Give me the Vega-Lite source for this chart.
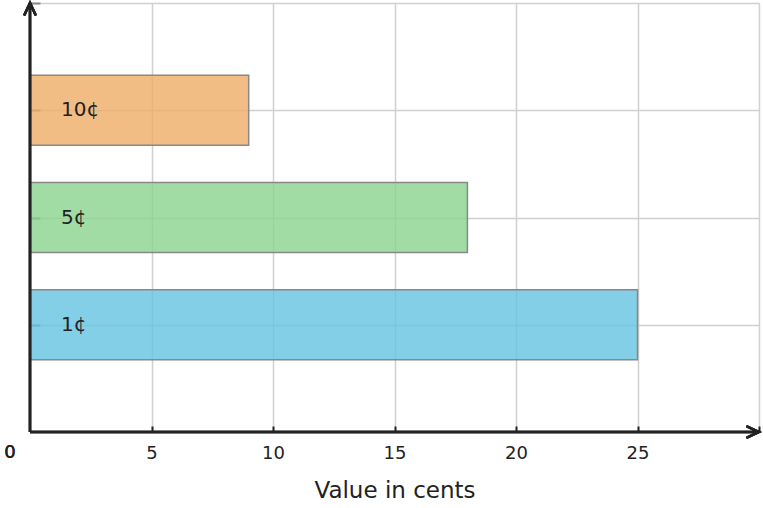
{
  "$schema": "https://vega.github.io/schema/vega-lite/v6.json",
  "width": 729,
  "height": 429,
  "autosize": {"type": "none"},
  "padding": {"left": 30, "top": 3, "right": 4, "bottom": 76},
  "background": "white",
  "config": {
    "view": {"stroke": null},
    "font": "DejaVu Sans"
  },
  "data": {
    "values": [
      {"coin": "1¢", "level": 1, "value": 25, "color": "#65C3E2"},
      {"coin": "5¢", "level": 2, "value": 18, "color": "#88D38D"},
      {"coin": "10¢", "level": 3, "value": 9, "color": "#EFAD65"}
    ]
  },
  "layer": [
    {
      "mark": {"type": "bar", "orient": "horizontal", "size": 70, "fillOpacity": 0.8, "stroke": "#888888", "strokeWidth": 1.5},
      "encoding": {
        "x": {
          "field": "value", "type": "quantitative",
          "scale": {"domain": [0, 30], "nice": false, "zero": true, "padding": 0},
          "axis": {
            "title": "Value in cents", "titleFontSize": 23, "titleFontWeight": "normal", "titleColor": "#222222", "titlePadding": 17,
            "values": [5, 10, 15, 20, 25, 30],
            "labelExpr": "datum.value == 30 ? '' : datum.label",
            "labelFontSize": 18, "labelColor": "#222222", "labelPadding": 18,
            "tickSize": -6, "tickColor": "#222222", "tickWidth": 2,
            "grid": true, "gridColor": "#d0d0d0", "gridWidth": 1.5,
            "domain": false, "zindex": 0
          }
        },
        "x2": {"datum": 0},
        "y": {
          "field": "level", "type": "quantitative",
          "scale": {"domain": [0, 4], "nice": false, "padding": 0},
          "axis": {
            "title": null, "values": [1, 2, 3, 4], "labels": false,
            "tickSize": -10, "tickColor": "#888888", "tickWidth": 2,
            "grid": true, "gridColor": "#d0d0d0", "gridWidth": 1.5,
            "domain": false, "zindex": 0
          }
        },
        "fill": {"field": "color", "type": "nominal", "scale": null}
      }
    },
    {
      "mark": {"type": "text", "align": "left", "baseline": "middle", "dx": 31, "fontSize": 20, "color": "#222222"},
      "encoding": {
        "x": {"datum": 0, "type": "quantitative"},
        "y": {"field": "level", "type": "quantitative"},
        "text": {"field": "coin"}
      }
    },
    {
      "mark": {"type": "rule", "color": "#222222", "strokeWidth": 2.5},
      "encoding": {
        "x": {"datum": 0, "type": "quantitative"},
        "y": {"datum": 0, "type": "quantitative"},
        "y2": {"datum": 4}
      }
    },
    {
      "mark": {"type": "rule", "color": "#222222", "strokeWidth": 2.5},
      "encoding": {
        "y": {"datum": 0, "type": "quantitative"},
        "x": {"datum": 0, "type": "quantitative"},
        "x2": {"datum": 30}
      }
    },
    {
      "mark": {"type": "point", "shape": "M-1,-0.47L0,0L-1,0.47", "filled": false, "stroke": "#222222", "strokeWidth": 2.5, "strokeCap": "round", "size": 540, "opacity": 1},
      "encoding": {
        "x": {"datum": 30, "type": "quantitative"},
        "y": {"datum": 0, "type": "quantitative"}
      }
    },
    {
      "mark": {"type": "point", "shape": "M-0.47,1L0,0L0.47,1", "filled": false, "stroke": "#222222", "strokeWidth": 2.5, "strokeCap": "round", "size": 540, "opacity": 1},
      "encoding": {
        "x": {"datum": 0, "type": "quantitative"},
        "y": {"datum": 4, "type": "quantitative"}
      }
    },
    {
      "mark": {"type": "text", "align": "center", "baseline": "middle", "dx": -20, "dy": 21, "fontSize": 18, "color": "#222222"},
      "encoding": {
        "x": {"datum": 0, "type": "quantitative"},
        "y": {"datum": 0, "type": "quantitative"},
        "text": {"value": "0"}
      }
    }
  ]
}
